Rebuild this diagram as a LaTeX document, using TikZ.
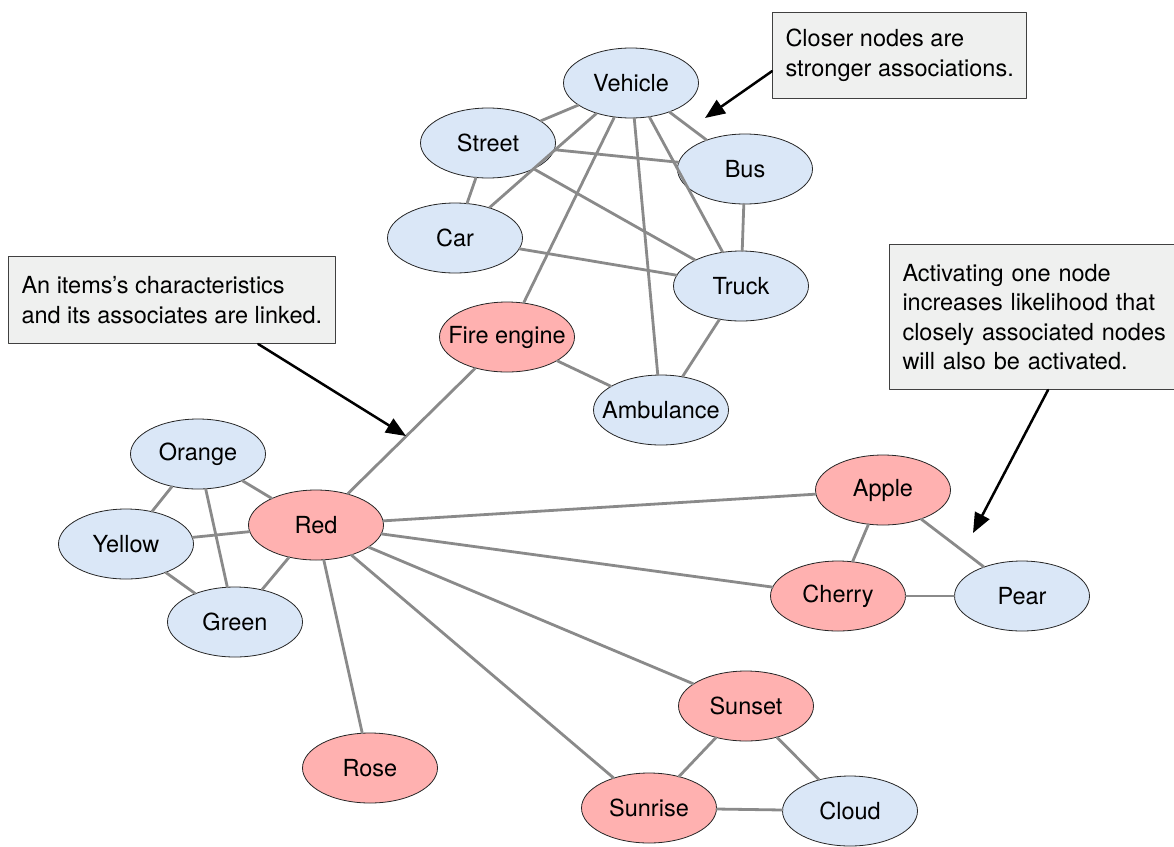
\documentclass[tikz,border=0pt]{standalone}
\usepackage{fontspec}
\setmainfont{TeX Gyre Heros}
\usetikzlibrary{arrows.meta,shapes.geometric}
\definecolor{coolblue}{HTML}{DAE7F7}
\definecolor{warmred}{HTML}{FFB1B0}
\definecolor{linkgray}{HTML}{8A8A8A}
\definecolor{notegray}{HTML}{EFF0EF}

\begin{document}
\begin{tikzpicture}[line cap=round,line join=round,>={Triangle[length=20pt,width=16pt]},x=1pt,y=-1pt,
    idea/.style={ellipse,draw=black!85,line width=0.8pt,fill=coolblue,
      minimum width=135pt,minimum height=70pt,inner xsep=-14pt,inner ysep=0pt,
      font=\fontsize{23.5}{28}\selectfont},
    hot/.style={idea,fill=warmred},
    link/.style={draw=linkgray,line width=2.8pt},
    note/.style={rectangle,draw=black!75,line width=1pt,fill=notegray,
      anchor=north west,align=left,inner xsep=13pt,inner ysep=0pt,
      font=\fontsize{23.5}{29.5}\selectfont},
    pointer/.style={->,line width=2.5pt,black}]
      \useasboundingbox (0,0) rectangle (1174,846);

      % vehicles
      \node[idea] (vehicle) at (631,83) {Vehicle};
      \node[idea] (street) at (488,143) {Street};
      \node[idea] (bus) at (745,169) {Bus};
      \node[idea] (car) at (455,238) {Car};
      \node[idea] (truck) at (741,286) {Truck};
      \node[hot] (fire) at (507,337) {Fire engine};
      \node[idea] (ambulance) at (661,410) {Ambulance};

      % colours and red things
      \node[idea] (orange) at (198,454) {Orange};
      \node[hot] (red) at (316,525) {Red};
      \node[idea] (yellow) at (126,544) {Yellow};
      \node[idea] (green) at (235,622) {Green};
      \node[hot] (apple) at (883,490) {Apple};
      \node[hot] (cherry) at (838,596) {Cherry};
      \node[idea] (pear) at (1022,596) {Pear};
      \node[hot] (sunset) at (746,706) {Sunset};
      \node[hot] (rose) at (370,768) {Rose};
      \node[hot] (sunrise) at (649,808) {Sunrise};
      \node[idea] (cloud) at (850,811) {Cloud};

      \foreach \a/\b in {vehicle/street,vehicle/bus,vehicle/car,vehicle/fire,
        vehicle/ambulance,vehicle/truck,street/bus,street/car,street/truck,
        car/truck,bus/truck,truck/ambulance,fire/ambulance,fire/red,
        red/orange,red/yellow,red/green,orange/yellow,orange/green,yellow/green,
        red/apple,red/cherry,red/rose,red/sunset,red/sunrise,
        apple/cherry,apple/pear,cherry/pear,
        sunset/sunrise,sunset/cloud,sunrise/cloud}{
        \draw[link] (\a) -- (\b);
      }

      % notes
      \node[note,minimum height=86pt] (closer) at (772,12)
        {Closer nodes are\\stronger associations.};
      \node[note,minimum height=87pt] (linked) at (8,256)
        {An items’s characteristics\\and its associates are linked.};
      \node[note,minimum height=145pt,text width=290pt] (spread) at (889,244)
        {Activating one node\\increases likelihood that\\closely associated nodes\\will also be activated.};

      \coordinate (closertip) at (705,118);
      \coordinate (linkedtip) at (406,436);
      \coordinate (spreadtip) at (973,533);
      \path (spread.south west) ++(159,0) coordinate (spreadfoot);
      \draw[pointer] (closer.187) -- (closertip);
      \draw[pointer] (linked.-27) -- (linkedtip);
      \draw[pointer] (spreadfoot) -- (spreadtip);
    \end{tikzpicture}
\end{document}
